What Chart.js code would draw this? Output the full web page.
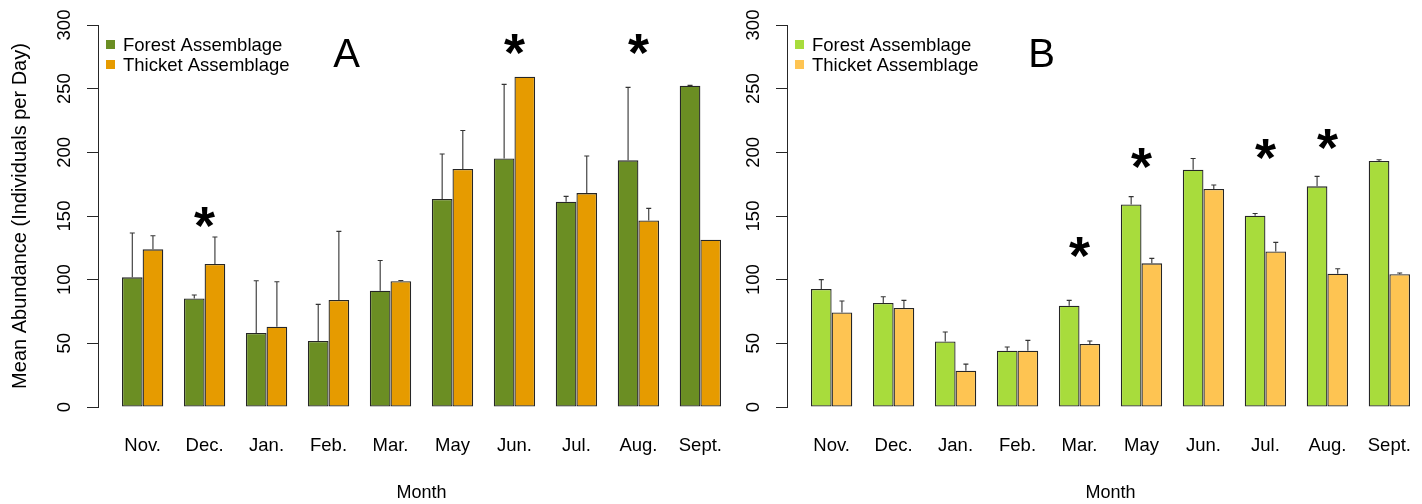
<!DOCTYPE html>
<html lang="en">
<head>
    <meta charset="UTF-8">
    <title>Mean Abundance by Month</title>
    <script src="https://cdn.jsdelivr.net/npm/chart.js"></script>
    <style>
        body {
            margin: 0;
            width: 1422px;
            height: 504px;
            overflow: hidden;
            position: relative;
            background: #fff;
        }
        .panel {
            position: absolute;
            top: 0;
            width: 745px;
            height: 504px;
        }
        #panelA { left: 0; }
        #panelB { left: 689px; }
    </style>
</head>
<body>
    <div class="panel" id="panelA"><canvas id="chartA"></canvas></div>
    <div class="panel" id="panelB"><canvas id="chartB"></canvas></div>

    <script>
        const months = ["Nov.", "Dec.", "Jan.", "Feb.", "Mar.", "May", "Jun.", "Jul.", "Aug.", "Sept."];
        const yTicks = [0, 50, 100, 150, 200, 250, 300];

        // panel A - means and standard errors (only the upper half is drawn)
        const forestA    = [101.8, 85.3, 58.1, 51.8, 91.3, 163.3, 195.2, 161.2, 193.7, 252.3];
        const forestSeA  = [34.8, 2.7, 41.1, 28.8, 23.8, 35.4, 58.2, 4.2, 57.3, 0.3];
        const thicketA   = [123.8, 112.3, 63.1, 84.0, 98.7, 186.9, 259.4, 168.0, 146.5, 131.4];
        const thicketSeA = [10.7, 21.2, 35.3, 53.9, 0.6, 30.3, 0, 29.1, 9.5, 0];
        const starsA     = [null, 149, null, null, null, null, 285, null, 285, null];

        // panel B
        const forestB    = [92.7, 81.7, 51.5, 44.2, 79.6, 159.1, 186.4, 150.2, 173.3, 193.2];
        const forestSeB  = [7.3, 4.9, 7.4, 2.9, 4.1, 6.1, 8.8, 1.8, 7.8, 1.0];
        const thicketB   = [74.3, 77.7, 28.5, 44.2, 49.5, 112.8, 171.2, 122.2, 104.7, 104.2];
        const thicketSeB = [8.9, 6.0, 5.2, 8.1, 2.3, 3.9, 3.1, 7.1, 3.9, 1.0];
        const starsB     = [null, null, null, null, 125, 195.5, null, 202.6, 210, null];

        // barplot(beside=TRUE) style: each group is 2 bars wide with 1 bar of space before it
        const groupX = months.map((m, i) => 2 + 3 * i);

        Chart.defaults.font.family = "'Liberation Sans', Arial, sans-serif";
        Chart.defaults.font.size = 18.5;
        Chart.defaults.color = "#000";

        // error bars, asterisks, legend and the panel letter
        const extras = {
            id: "extras",
            afterDatasetsDraw(chart, args, opts) {
                const { ctx, chartArea, scales: { x, y } } = chart;
                ctx.save();

                // upper error bars
                ctx.strokeStyle = "#333";
                ctx.lineWidth = 1.1;
                chart.data.datasets.forEach((ds, di) => {
                    chart.getDatasetMeta(di).data.forEach((bar, i) => {
                        const se = ds.se[i];
                        if (!se) return;
                        const top = y.getPixelForValue(ds.data[i].y + se);
                        ctx.beginPath();
                        ctx.moveTo(bar.x, bar.y);
                        ctx.lineTo(bar.x, top);
                        ctx.moveTo(bar.x - 2.5, top);
                        ctx.lineTo(bar.x + 2.5, top);
                        ctx.stroke();
                    });
                });

                // significance asterisks
                ctx.fillStyle = "#000";
                ctx.font = "bold 54px 'Liberation Sans', Arial, sans-serif";
                ctx.textAlign = "center";
                ctx.textBaseline = "alphabetic";
                const m = ctx.measureText("*");
                const shift = (m.actualBoundingBoxAscent - m.actualBoundingBoxDescent) / 2;
                opts.stars.forEach((v, i) => {
                    if (v === null) return;
                    ctx.fillText("*", x.getPixelForValue(groupX[i]), y.getPixelForValue(v) + shift);
                });

                // legend
                ctx.font = "18.5px 'Liberation Sans', Arial, sans-serif";
                ctx.textAlign = "left";
                ctx.textBaseline = "middle";
                chart.data.datasets.forEach((ds, di) => {
                    const bx = chartArea.left + 8;
                    const by = chartArea.top + 15 + di * 20;
                    ctx.fillStyle = ds.backgroundColor;
                    ctx.fillRect(bx, by, 9, 9);
                    ctx.fillStyle = "#000";
                    ctx.fillText(ds.label, bx + 17, by + 5.5);
                });

                // panel letter
                ctx.font = "40px 'Liberation Sans', Arial, sans-serif";
                ctx.textAlign = "center";
                ctx.textBaseline = "middle";
                ctx.fillText(opts.letter, x.getPixelForValue(opts.letterX), y.getPixelForValue(opts.letterY));

                ctx.restore();
            }
        };

        function makePanel(id, forest, forestSe, thicket, thicketSe, stars, colors, letter, letterX, showYTitle) {
            new Chart(document.getElementById(id), {
                type: "bar",
                data: {
                    datasets: [
                        {
                            label: "Forest Assemblage",
                            data: groupX.map((gx, i) => ({ x: gx, y: forest[i] })),
                            se: forestSe,
                            backgroundColor: colors[0],
                            borderColor: "#262626",
                            borderWidth: 1.3,
                            borderSkipped: false
                        },
                        {
                            label: "Thicket Assemblage",
                            data: groupX.map((gx, i) => ({ x: gx, y: thicket[i] })),
                            se: thicketSe,
                            backgroundColor: colors[1],
                            borderColor: "#262626",
                            borderWidth: 1.3,
                            borderSkipped: false
                        }
                    ]
                },
                options: {
                    responsive: true,
                    maintainAspectRatio: false,
                    animation: false,
                    layout: { padding: { top: 25, left: 0, right: 0, bottom: 0 } },
                    datasets: { bar: { categoryPercentage: 2 / 3, barPercentage: 1 } },
                    plugins: {
                        legend: { display: false },
                        tooltip: { enabled: false },
                        extras: { stars: stars, letter: letter, letterX: letterX, letterY: 275.5 }
                    },
                    scales: {
                        x: {
                            type: "linear",
                            min: -0.16,
                            max: 31.16,
                            offset: false,
                            afterBuildTicks: s => { s.ticks = groupX.map(v => ({ value: v })); },
                            afterFit: s => { s.height = 97; },
                            border: { display: false },
                            grid: { display: false, offset: false },
                            ticks: {
                                autoSkip: false,
                                maxRotation: 0,
                                padding: 20,
                                callback: (value, index) => months[index]
                            },
                            title: { display: true, text: "Month", font: { size: 18 }, padding: 0 }
                        },
                        y: {
                            min: 0,
                            max: 300,
                            afterBuildTicks: s => { s.ticks = yTicks.map(v => ({ value: v })); },
                            afterFit: s => { s.width = 98; },
                            border: { display: true, color: "#262626" },
                            grid: { drawOnChartArea: false, tickLength: 11, color: "#262626" },
                            ticks: { minRotation: 90, maxRotation: 90, crossAlign: "center", padding: 7 },
                            title: {
                                display: showYTitle,
                                text: "Mean Abundance (Individuals per Day)",
                                font: { size: 20 },
                                padding: { top: 8, bottom: 0 }
                            }
                        }
                    }
                },
                plugins: [extras]
            });
        }

        makePanel("chartA", forestA, forestSeA, thicketA, thicketSeA, starsA, ["#6b8e23", "#e69b00"], "A", 11.87, true);
        makePanel("chartB", forestB, forestSeB, thicketB, thicketSeB, starsB, ["#a8dc3c", "#fec452"], "B", 12.16, false);
    </script>
</body>
</html>
